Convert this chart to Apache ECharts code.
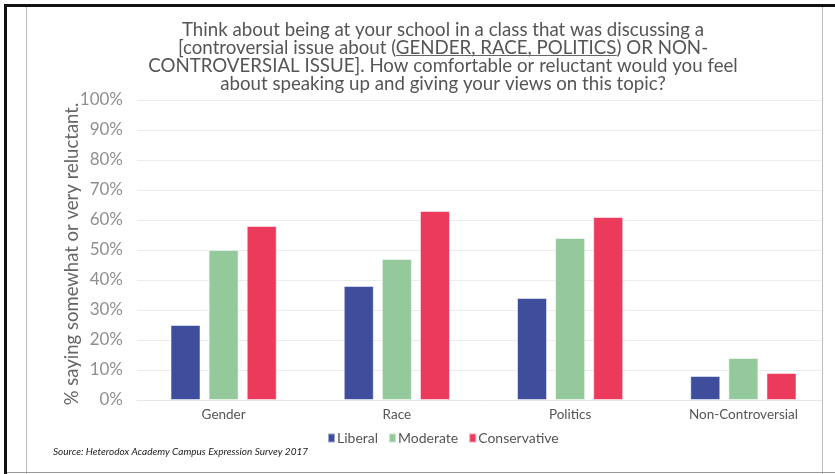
<!DOCTYPE html>
<html>
<head>
<meta charset="utf-8">
<script src="https://cdn.jsdelivr.net/npm/echarts@6/dist/echarts.min.js"></script>
<style>
html,body{margin:0;padding:0;background:#fff;}
#c{width:835px;height:474px;}
</style>
</head>
<body>
<div id="c"></div>
<script>
const categories = ['Gender', 'Race', 'Politics', 'Non-Controversial'];
const seriesNames = ['Liberal', 'Moderate', 'Conservative'];
const liberal = [25, 38, 34, 8];
const moderate = [50, 47, 54, 14];
const conservative = [58, 63, 61, 9];
const yTicks = [0, 10, 20, 30, 40, 50, 60, 70, 80, 90, 100];
const titleLines = [
  'Think about being at your school in a class that was discussing a',
  '[controversial issue about (GENDER, RACE, POLITICS) OR NON-',
  'CONTROVERSIAL ISSUE]. How comfortable or reluctant would you feel',
  'about speaking up and giving your views on this topic?'
];
const underlined = 'GENDER, RACE, POLITICS';
const yAxisName = '% saying somewhat or very reluctant.';
const sourceText = 'Source: Heterodox Academy Campus Expression Survey 2017';

const colors = ['#3E4E9C', '#93C99B', '#EB3A5C'];
const FONT = 'Lato';
const TITLE_SIZE = 18.7;
const TITLE_LH = 18;
const TITLE_TOP = 21;
const TITLE_CX = 443;

// measure for the underline decoration
const ctx = document.createElement('canvas').getContext('2d');
ctx.font = TITLE_SIZE + 'px ' + FONT;
const line2 = titleLines[1];
const l2w = ctx.measureText(line2).width;
const preIdx = line2.indexOf(underlined);
const preW = ctx.measureText(line2.slice(0, preIdx)).width;
const ulW = ctx.measureText(underlined).width;
const ulX1 = TITLE_CX - l2w / 2 + preW;
const ulY = TITLE_TOP + TITLE_LH * 1.5 + 7.5;

const chart = echarts.init(document.getElementById('c'), null, {renderer: 'canvas'});
const values = [liberal, moderate, conservative];

chart.setOption({
  animation: false,
  backgroundColor: '#fff',
  color: colors,
  title: {
    text: titleLines.join('\n'),
    left: TITLE_CX,
    top: TITLE_TOP,
    padding: 0,
    textAlign: 'center',
    textStyle: {
      fontFamily: FONT, fontSize: TITLE_SIZE, fontWeight: 'normal', color: '#555', lineHeight: TITLE_LH
    }
  },
  legend: {
    data: seriesNames,
    left: 322, top: 426,
    itemWidth: 7, itemHeight: 9, itemGap: 10,
    icon: 'rect',
    textStyle: {fontFamily: FONT, fontSize: 14, color: '#555', padding: [0, 0, 0, -3]}
  },
  grid: {left: 137, right: 5, top: 100, bottom: 74, containLabel: false},
  xAxis: {
    type: 'category',
    data: categories,
    axisLine: {show: true, lineStyle: {color: '#e6e6e6', width: 1}},
    axisTick: {show: false},
    axisLabel: {fontFamily: FONT, fontSize: 13.5, color: '#555', margin: 8}
  },
  yAxis: {
    type: 'value',
    min: 0, max: 100, interval: 10,
    name: yAxisName,
    nameLocation: 'middle',
    nameGap: 55,
    nameMoveOverlap: false,
    nameTextStyle: {fontFamily: FONT, fontSize: 18.5, color: '#666', padding: [0, 8, 0, 0]},
    axisLine: {show: false},
    axisTick: {show: false},
    axisLabel: {
      fontFamily: FONT, fontSize: 17, color: '#8f8f8f', margin: 14,
      formatter: v => yTicks.includes(v) ? v + '%' : ''
    },
    splitLine: {lineStyle: {color: '#ececec', width: 1}}
  },
  series: seriesNames.map((n, i) => ({
    name: n,
    type: 'bar',
    data: values[i],
    barWidth: 30,
    barGap: '27%',
    itemStyle: {borderColor: 'rgba(255,255,255,0.5)', borderWidth: 1}
  })),
  graphic: [
    {type: 'line', z: 10, shape: {x1: ulX1, y1: ulY, x2: ulX1 + ulW, y2: ulY}, style: {stroke: '#666', lineWidth: 1}},
    {type: 'text', left: 53, top: 447, style: {text: sourceText, fontFamily: FONT, fontStyle: 'italic', fontSize: 10, fill: '#222'}},
    {type: 'rect', z: 10, shape: {x: 823, y: 7, width: 12, height: 467}, style: {fill: '#fff'}},
    {type: 'rect', z: 11, shape: {x: 4, y: 4, width: 831, height: 3}, style: {fill: '#111'}},
    {type: 'rect', z: 11, shape: {x: 4, y: 4, width: 3, height: 470}, style: {fill: '#111'}},
    {type: 'line', z: 11, shape: {x1: 26.5, y1: 7, x2: 26.5, y2: 474}, style: {stroke: '#bbb', lineWidth: 1}},
    {type: 'line', z: 11, shape: {x1: 822.5, y1: 7, x2: 822.5, y2: 474}, style: {stroke: '#bbb', lineWidth: 1}},
    {type: 'line', z: 11, shape: {x1: 7, y1: 472.5, x2: 835, y2: 472.5}, style: {stroke: '#999', lineWidth: 1}}
  ]
});
</script>
</body>
</html>
